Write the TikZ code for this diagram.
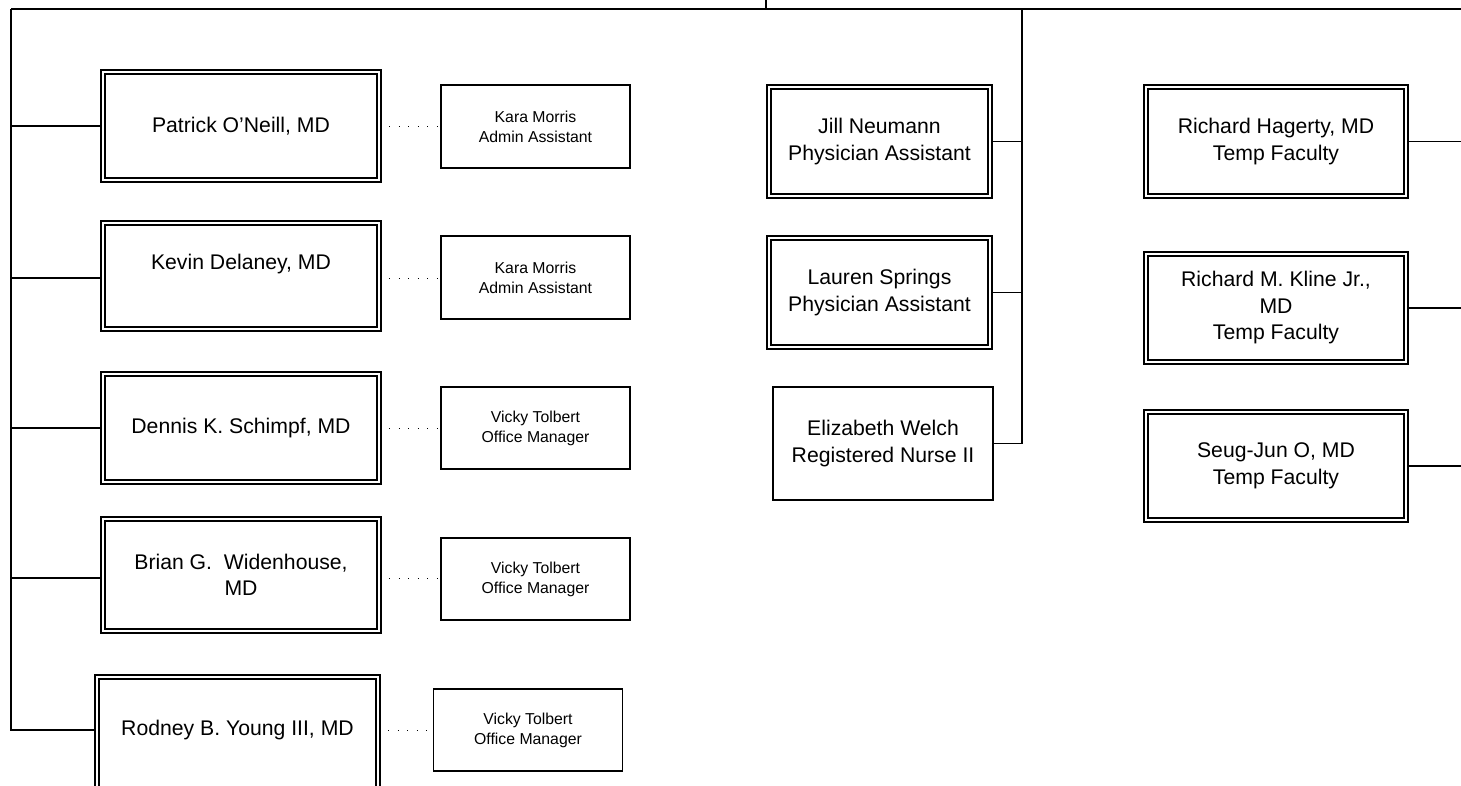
\documentclass[tikz,border=0pt]{standalone}
\usepackage{fontspec}
\setmainfont{Liberation Sans}
\usetikzlibrary{backgrounds}
\tikzset{
  x=1pt, y=-1pt,
  bigtxt/.style={font=\fontsize{21.2}{26.5}\selectfont, align=center},
  smalltxt/.style={font=\fontsize{15.8}{20}\selectfont, align=center},
  dbox/.style={draw=black, line width=1.5pt, double=white, double distance=2.4pt,
               fill=white, inner sep=0pt, bigtxt},
  sbox/.style={draw=black, line width=1.6pt, fill=white, inner sep=0pt},
  conn/.style={draw=black, line width=1.7pt},
  topline/.style={draw=black, line width=2.8pt},
  dots/.style={draw=black, line width=1pt, dash pattern=on 1pt off 8.5pt},
}
\begin{document}
\begin{tikzpicture}
\useasboundingbox (0,0) rectangle (1461,785);
\clip (0,0) rectangle (1461,785);

% left column
\node[dbox, minimum width=276pt, minimum height=108pt] (patrick) at (241,126) {Patrick O'Neill, MD};
\node[dbox, minimum width=276pt, minimum height=106pt] (kevin) at (241,276) {Kevin Delaney, MD\\[-6pt]\strut};
\node[dbox, minimum width=276pt, minimum height=108pt] (dennis) at (241,428) {Dennis K. Schimpf, MD};
\node[dbox, minimum width=276pt, minimum height=112pt] (brian) at (241,575) {Brian G.\ \ Widenhouse,\\MD};
\node[dbox, minimum width=281pt, minimum height=112pt] (rodney) at (237.5,733) {};
\node[bigtxt] (rodneytxt) at (237.5,730) {Rodney B. Young III, MD};

\node[sbox, smalltxt, minimum width=189pt, minimum height=83pt] (kara1) at (535.5,126.5) {Kara Morris\\Admin Assistant};
\node[sbox, smalltxt, minimum width=189pt, minimum height=83pt] (kara2) at (535.5,277.5) {Kara Morris\\Admin Assistant};
\node[sbox, smalltxt, minimum width=189pt, minimum height=82pt] (vicky1) at (535.5,428) {Vicky Tolbert\\Office Manager};
\node[sbox, smalltxt, minimum width=189pt, minimum height=82pt] (vicky2) at (535.5,579) {Vicky Tolbert\\Office Manager};
\node[sbox, smalltxt, minimum width=189pt, minimum height=82pt] (vicky3) at (528,730) {Vicky Tolbert\\Office Manager};

% middle column
\node[dbox, minimum width=221pt, minimum height=109pt] (jill) at (879.5,141.5) {Jill Neumann\\Physician Assistant};
\node[dbox, minimum width=221pt, minimum height=109pt] (lauren) at (879.5,292.5) {Lauren Springs\\Physician Assistant};
\node[sbox, bigtxt, minimum width=220pt, minimum height=113pt] (eliz) at (883,443.5) {Elizabeth Welch\\Registered Nurse II};

% right column
\node[dbox, minimum width=260pt, minimum height=109pt] (hagerty) at (1276,141.5) {Richard Hagerty, MD\\Temp Faculty};
\node[dbox, minimum width=260pt, minimum height=108pt] (kline) at (1276,308) {Richard M. Kline Jr.,\\MD\\Temp Faculty};
\node[dbox, minimum width=260pt, minimum height=108pt] (seug) at (1276,466) {Seug-Jun O, MD\\Temp Faculty};

% bus coordinates
\coordinate (stubtop) at (766,0);
\coordinate (stub) at (766,9);
\coordinate (topL) at (11,9);
\coordinate (topR) at (1461,9);
\coordinate (midtop) at (1022,9);
\coordinate (midbot) at (1022,443.5);
\coordinate (leftbot) at (11,730);
\coordinate (r1) at (1461,141.5);
\coordinate (r2) at (1461,308);
\coordinate (r3) at (1461,466);

\begin{pgfonlayer}{background}
  \draw[topline] (stubtop) -- (stub);
  \draw[topline] (topL) -- (topR);
  \draw[conn] (topL) -- (leftbot) -- (rodney.west |- leftbot);
  \draw[conn] (patrick.west) -- (patrick.west -| topL);
  \draw[conn] (kevin.west |- 0,278) -- (11,278);
  \draw[conn] (dennis.west) -- (dennis.west -| topL);
  \draw[conn] (brian.west |- 0,578) -- (11,578);
  \draw[conn] (midtop) -- (midbot);
  \draw[conn] (jill.east) -- (jill.east -| midtop);
  \draw[conn] (lauren.east) -- (lauren.east -| midtop);
  \draw[conn] (eliz.east) -- (midbot);
  \draw[conn] (hagerty.east) -- (r1);
  \draw[conn] (kline.east) -- (r2);
  \draw[conn] (seug.east) -- (r3);
  \draw[dots] (patrick.east) -- (kara1.west |- patrick.east);
  \draw[dots] (kevin.east |- 0,278) -- (kara2.west |- 0,278);
  \draw[dots] (dennis.east) -- (vicky1.west |- dennis.east);
  \draw[dots] (brian.east |- 0,578) -- (vicky2.west |- 0,578);
  \draw[dots] (rodney.east |- leftbot) -- (vicky3.west |- leftbot);
\end{pgfonlayer}
\end{tikzpicture}
\end{document}
